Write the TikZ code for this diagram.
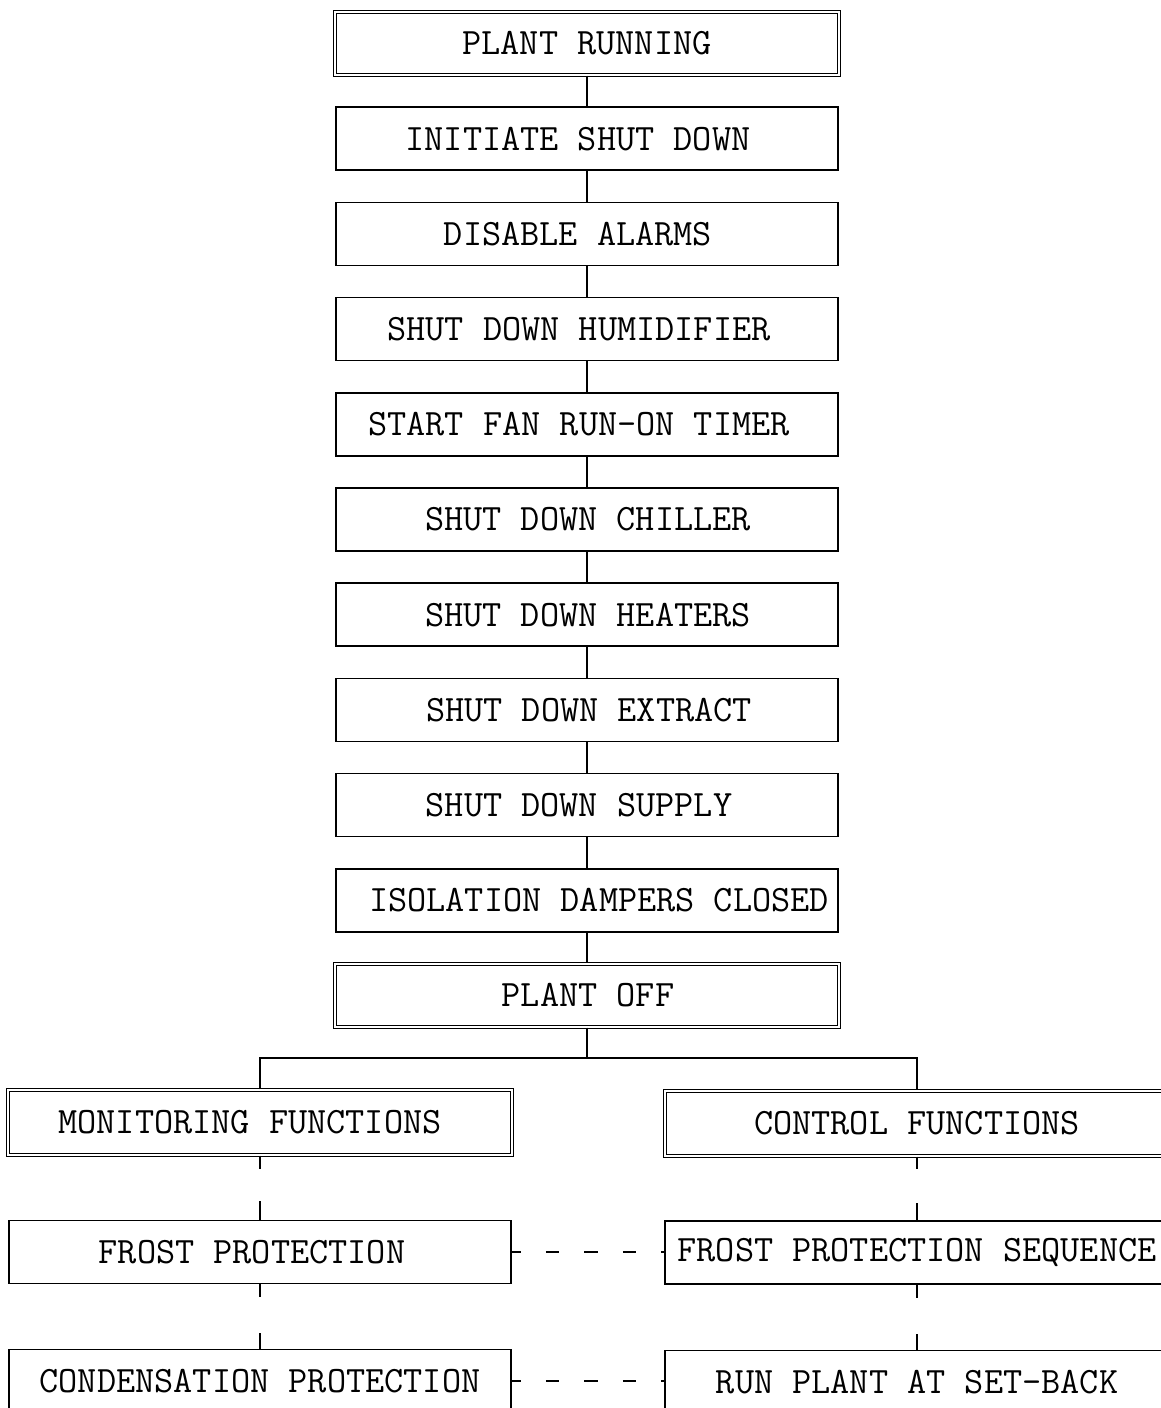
\documentclass[tikz,border=0pt]{standalone}
\usepackage{fontspec}
\begin{document}
\begin{tikzpicture}[x=1pt,y=-1pt,
  every node/.style={font=\fontsize{37.2}{40}\selectfont\ttfamily, inner sep=0pt},
  stepbox/.style={draw, line width=1.5pt, minimum width=502pt, minimum height=63pt},
  termbox/.style={draw, line width=1.4pt, double, double distance=2pt,
                  minimum width=504pt, minimum height=63pt},
  funcbox/.style={termbox, minimum height=65pt},
  link/.style={line width=1.5pt},
  pairing/.style={line width=1.5pt, dash pattern=on 13.5pt off 25pt, dash phase=4.5pt}]
\newcommand\txtshift[2]{\hspace*{#1}#2\hspace*{-#1}}
\useasboundingbox (0,0) rectangle (1161,1408);

% main shut-down sequence
\node[termbox] (run)   at (587,43.5)  {\txtshift{0pt}{PLANT RUNNING}};
\node[stepbox] (init)  at (587,138.7) {\txtshift{-9pt}{INITIATE SHUT DOWN}};
\node[stepbox] (alarm) at (587,233.9) {\txtshift{-9pt}{DISABLE ALARMS}};
\node[stepbox] (humid) at (587,329.1) {\txtshift{-8pt}{SHUT DOWN HUMIDIFIER}};
\node[stepbox] (timer) at (587,424.3) {\txtshift{-8pt}{START FAN RUN-ON TIMER}};
\node[stepbox] (chill) at (587,519.5) {\txtshift{1pt}{SHUT DOWN CHILLER}};
\node[stepbox] (heat)  at (587,614.7) {\txtshift{1pt}{SHUT DOWN HEATERS}};
\node[stepbox] (extr)  at (587,709.9) {\txtshift{2pt}{SHUT DOWN EXTRACT}};
\node[stepbox] (supp)  at (587,805.1) {\txtshift{-8pt}{SHUT DOWN SUPPLY}};
\node[stepbox] (damp)  at (587,900.3) {\txtshift{12pt}{ISOLATION DAMPERS CLOSED}};
\node[termbox] (off)   at (587,995.5) {\txtshift{1pt}{PLANT OFF}};

\foreach \a/\b in {run/init, init/alarm, alarm/humid, humid/timer, timer/chill,
                   chill/heat, heat/extr, extr/supp, supp/damp, damp/off}
  \draw[link] (\a.south) -- (\b.north);

% monitoring and control branches
\node[funcbox] (mon)   at (260,1122.5) {\txtshift{-10pt}{MONITORING FUNCTIONS}};
\node[funcbox] (ctl)   at (917,1123.5) {CONTROL FUNCTIONS};
\node[stepbox] (frost) at (260,1252)   {\txtshift{-8pt}{FROST PROTECTION}};
\node[stepbox, minimum width=504pt] (fseq) at (917,1252.5) {FROST PROTECTION SEQUENCE};
\node[stepbox] (cond)  at (260,1381)   {CONDENSATION PROTECTION};
\node[stepbox, minimum width=504pt] (setb) at (917,1382) {RUN PLANT AT SET-BACK};

\coordinate (split) at (587,1058);
\draw[link] (off.south) -- (split);
\draw[link] (mon.north) |- (split) -| (ctl.north);

% short stubs between the function boxes
\draw[link] (mon.south)   -- ++(0,13) coordinate (m1);
\draw[link] (frost.north) -- ++(0,-19) coordinate (m2);
\draw[link] (frost.south) -- ++(0,13) coordinate (m3);
\draw[link] (cond.north)  -- ++(0,-16) coordinate (m4);
\draw[link] (ctl.south)   -- ++(0,12) coordinate (c1);
\draw[link] (fseq.north)  -- ++(0,-17) coordinate (c2);
\draw[link] (fseq.south)  -- ++(0,13) coordinate (c3);
\draw[link] (setb.north)  -- ++(0,-16) coordinate (c4);

% dashed pairings
\draw[pairing] (frost.east) -- (frost.east -| fseq.west);
\draw[pairing] (cond.east)  -- (cond.east -| setb.west);
\end{tikzpicture}
\end{document}
